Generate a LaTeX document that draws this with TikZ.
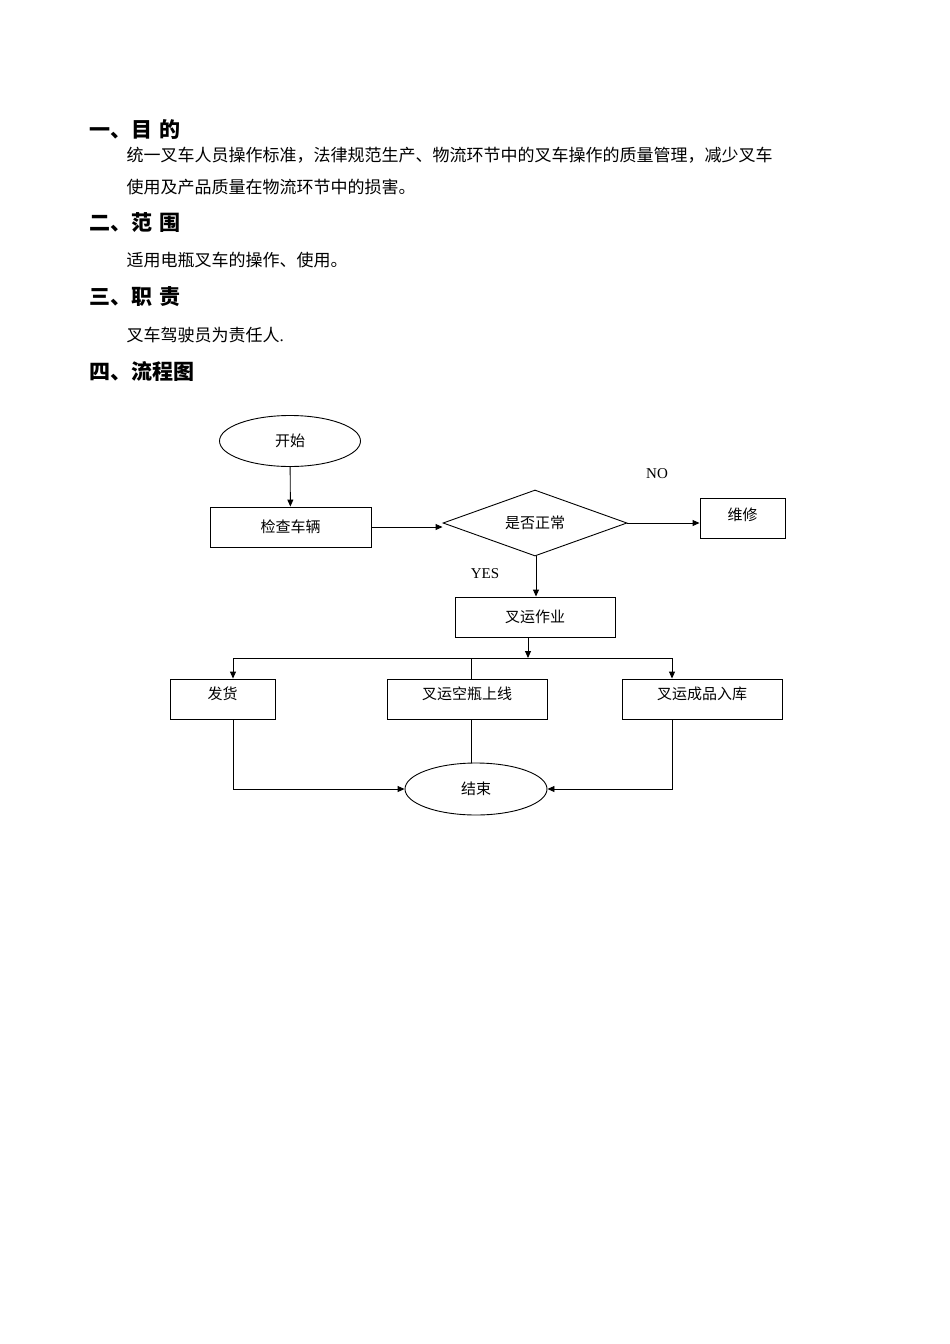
\documentclass[tikz,border=0pt]{standalone}
\usepackage{fontspec}
\setmainfont{Noto Sans CJK SC}
\newfontfamily\latin{Liberation Serif}
\usetikzlibrary{shapes.geometric,arrows.meta}
\begin{document}
\begin{tikzpicture}[x=1pt,y=-1pt,
  box/.style={draw,thick=false,line width=0.9pt,minimum width=#1,minimum height=40pt,inner sep=0pt,font=\fontsize{15}{18}\selectfont},
  oval/.style={draw,line width=0.9pt,ellipse,minimum width=141pt,minimum height=51pt,inner sep=0pt,font=\fontsize{15}{18}\selectfont},
  arr/.style={-{Triangle[length=7pt,width=6pt]},line width=0.9pt},
  ln/.style={line width=0.9pt},
  hd/.style={anchor=west,font=\fontsize{21}{24}\selectfont\bfseries},
  tx/.style={anchor=west,font=\fontsize{17}{20}\selectfont}]
\useasboundingbox[fill=white] (0,0) rectangle (950,1344);
\node[hd] (h1) at (86,130) {一、目\,\,的};
\node[tx] (t1) at (123,155) {统一叉车人员操作标准，法律规范生产、物流环节中的叉车操作的质量管理，减少叉车};
\node[tx] (t2) at (123,187) {使用及产品质量在物流环节中的损害。};
\node[hd] (h2) at (86,223) {二、范\,\,围};
\node[tx] (t3) at (123,260) {适用电瓶叉车的操作、使用。};
\node[hd] (h3) at (86,297) {三、职\,\,责};
\node[tx] (t4) at (123,335) {叉车驾驶员为责任人{\latin .}};
\node[hd] (h4) at (86,371) {四、流程图};

\node[oval] (start) at (290,441) {开始};
\node[box=161pt] (check) at (290.5,527) {检查车辆};
\node[draw,line width=0.9pt,diamond,aspect=2.8,minimum width=184pt,minimum height=66pt,inner sep=0pt,font=\fontsize{15}{18}\selectfont] (dec) at (535,523) {是否正常};
\node[box=85pt] (fix) at (742.5,518.5) {};
\node[font=\fontsize{15}{18}\selectfont] (fixt) at (742.5,515) {维修};
\node[font=\fontsize{15}{18}\selectfont\latin] (no) at (657,474) {NO};
\node[font=\fontsize{15}{18}\selectfont\latin] (yes) at (485,574) {YES};
\node[box=160pt] (op) at (535,617) {叉运作业};
\node[box=105pt] (ship) at (222.5,699) {};
\node[font=\fontsize{15}{18}\selectfont] at (222.5,694) {发货};
\node[box=160pt] (empty) at (467,699) {};
\node[font=\fontsize{15}{18}\selectfont] at (467,694) {叉运空瓶上线};
\node[box=160pt] (prod) at (702,699) {};
\node[font=\fontsize{15}{18}\selectfont] at (702,694) {叉运成品入库};
\node[oval,minimum width=142pt,minimum height=52pt] (end) at (476,789) {结束};

\coordinate (j) at (528,658);
\draw[arr] (start) -- (check);
\draw[arr] (check.east) -- (dec.west |- check.east);
\draw[arr] (dec.east) -- (fix.west |- dec.east);
\draw[arr] (dec.south -| 536,0) ++(0,0) -- (op.north -| 536,0);
\draw[arr] (op.south -| j) -- (j);
\draw[ln] (j) -- (233,658) (j) -- (672,658) (471,658) -- (empty.north -| 471,0);
\draw[arr] (233,658) -- (ship.north -| 233,0);
\draw[arr] (672,658) -- (prod.north -| 672,0);
\draw[ln] (empty.south -| 471,0) -- (end.north -| 471,0);
\draw[arr] (ship.south -| 233,0) |- (end.west);
\draw[arr] (prod.south -| 672,0) |- (end.east);
\end{tikzpicture}
\end{document}
